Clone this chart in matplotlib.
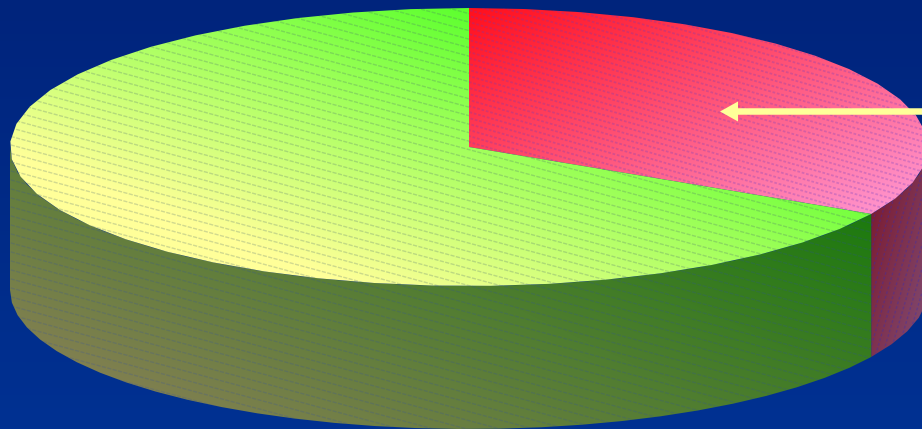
import matplotlib
matplotlib.use('Agg')
import matplotlib.pyplot as plt
from matplotlib.patches import Polygon
import numpy as np

# slice shares, clockwise from 12 o'clock
shares = [33, 67]
top_from = ['#ff0f1c', '#5cff2e']
top_to = ['#ff96d0', '#ffff99']
side_from = ['#7a1428', '#1c7a0e']
side_to = ['#804468', '#808050']

W, H = 922, 429
cx, cy = 469, 147
rx, ry = 459, 139
depth = 143

fig = plt.figure(figsize=(W / 100, H / 100), dpi=100)
ax = fig.add_axes([0, 0, 1, 1])
ax.set_xlim(0, W)
ax.set_ylim(H, 0)
ax.axis('off')

xx, yy = np.meshgrid(np.arange(W) + 0.5, np.arange(H) + 0.5)


def rgb(c):
	return np.array(matplotlib.colors.to_rgb(c))


def gradient(c0, c1, t, clip, hatch, col='#2a2ac8', alpha=0.33, lw=1):
	t = np.clip(t, 0, 1)[..., None]
	img = rgb(c0) * (1 - t) + rgb(c1) * t
	patch = Polygon(clip, closed=True, fc='none', ec='none', transform=ax.transData)
	ax.add_patch(patch)
	im = ax.imshow(img, extent=(0, W, H, 0), aspect='auto', interpolation='nearest', zorder=2)
	im.set_clip_path(patch)
	# fine dashed fill lines
	slope, step, dash = hatch
	if abs(slope) < 1:
		for b in np.arange(-300, H + 300, step):
			l, = ax.plot([0, W], [b, b + slope * W], color=col, lw=lw, alpha=alpha,
				dashes=dash, zorder=3)
			l.set_clip_path(patch)
	else:
		for b in np.arange(0, W + 400, step):
			l, = ax.plot([b, b - H / slope], [0, H], color=col, lw=lw, alpha=alpha,
				dashes=dash, zorder=3)
			l.set_clip_path(patch)


def rim(a0, a1, n):
	# a is degrees clockwise from the top; few points give the faceted outline
	a = np.radians(np.linspace(a0, a1, n))
	return np.column_stack([cx + rx * np.sin(a), cy - ry * np.cos(a)])


# background
bg = np.linspace(0, 1, H)[:, None]
ax.imshow(bg, extent=(0, W, H, 0), aspect='auto', zorder=0,
	cmap=matplotlib.colors.LinearSegmentedColormap.from_list('bg', ['#00247c', '#003192']))

angles = np.cumsum([0] + shares) * 3.6
red_end = angles[1]
ex, ey = rim(red_end, red_end, 1)[0]

# side walls
arc = rim(90, red_end, 6)
gradient(side_from[0], side_to[0], 0.55 * (xx - ex) / 52 + 0.45 * (yy - ey) / 145 + 0.2,
	np.vstack([arc, (arc + [0, depth])[::-1]]), (3.4, 7, (2, 1.5)), alpha=0.3)
arc = rim(red_end, 270, 30)
gradient(side_from[1], side_to[1], 0.0009 * (ex - xx) + 0.0019 * (yy - ey),
	np.vstack([arc, (arc + [0, depth])[::-1]]), (0.27, 9, (3, 1)), col='#2a4ab0', alpha=0.2)

# top faces
gradient(top_from[0], top_to[0], 0.00115 * (xx - cx) + 0.0025 * (yy - 8),
	np.vstack([[cx, cy], rim(angles[0], angles[1], 18)]), (0.29, 6, (1.5, 1)), col='#6a3ac0', alpha=0.27, lw=1.3)
gradient(top_from[1], top_to[1], 0.0012 * (cx - xx) + 0.0031 * (yy - 8),
	np.vstack([[cx, cy], rim(angles[1], angles[2], 34)]), (0.27, 8.5, (3, 1)), col='#406070', alpha=0.24)

# arrow pointing into the red slice
ax.arrow(930, 111.5, -210, 0, width=6.5, head_width=20, head_length=18,
	length_includes_head=True, fc='#ffff99', ec='none', zorder=5)

fig.savefig('out.png', dpi=100)
